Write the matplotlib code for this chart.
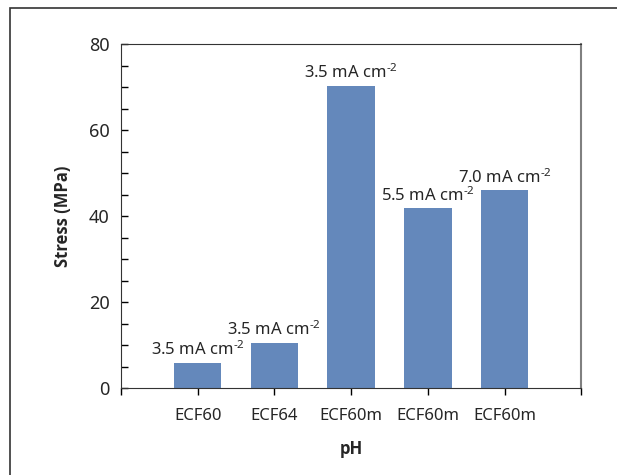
import matplotlib
matplotlib.use("Agg")
import matplotlib.pyplot as plt
from matplotlib.patches import Rectangle
from matplotlib.ticker import MultipleLocator

samples = ["ECF60", "ECF64", "ECF60m", "ECF60m", "ECF60m"]
stress = [5.9, 10.5, 70.3, 41.9, 46.0]
current = ["3.5", "3.5", "3.5", "5.5", "7.0"]

plt.rcParams['font.family'] = ['Noto Sans', 'DejaVu Sans']
plt.rcParams['mathtext.fontset'] = 'custom'
plt.rcParams['mathtext.rm'] = 'Noto Sans'
plt.rcParams['mathtext.it'] = 'Noto Sans'
plt.rcParams['mathtext.bf'] = 'Noto Sans'
bar_color = '#6488bb'
text_color = '#262626'

fig = plt.figure(figsize=(6.17, 4.75), dpi=100)
ax = fig.add_axes([0.196, 0.183, 0.746, 0.724])

pos = list(range(len(samples)))
bars = ax.bar(pos, stress, width=0.62, color=bar_color, zorder=2)

for p, v, c in zip(pos, stress, current):
    ax.text(p, v + 0.8, c + r' mA cm$^{\text{-}2}$', ha='center', va='bottom',
            fontsize=12, color=text_color)

ax.set_xlim(-1, 5)
ax.set_ylim(0, 80)
ax.set_xticks(range(-1, 6))
ax.set_xticklabels([''] + samples + [''], fontsize=12, color=text_color)
ax.yaxis.set_major_locator(MultipleLocator(20))
ax.yaxis.set_minor_locator(MultipleLocator(5))
ax.tick_params(axis='y', which='both', direction='in', length=5, width=1,
               labelsize=13, labelcolor=text_color, pad=8)
ax.tick_params(axis='x', direction='out', length=5, width=1, pad=9)

ax.spines['top'].set_color('#333333')
ax.spines['right'].set_color('#808080')
ax.spines['right'].set_linewidth(1.5)
ax.spines['left'].set_color('#333333')
ax.spines['bottom'].set_color('#333333')

ax.set_ylabel('Stress (MPa)', fontsize=12, fontweight='bold', family='Open Sans',
              color=text_color, labelpad=12)
ax.set_xlabel('pH', fontsize=12, fontweight='bold', family='Open Sans',
              color=text_color, labelpad=12)

frame = Rectangle((10 / 617, -0.1), 1.2, 1.1 - 8 / 475, transform=fig.transFigure,
                  fill=False, edgecolor='#333333', linewidth=1.2)
fig.patches.append(frame)

fig.savefig('out.png', dpi=100)
